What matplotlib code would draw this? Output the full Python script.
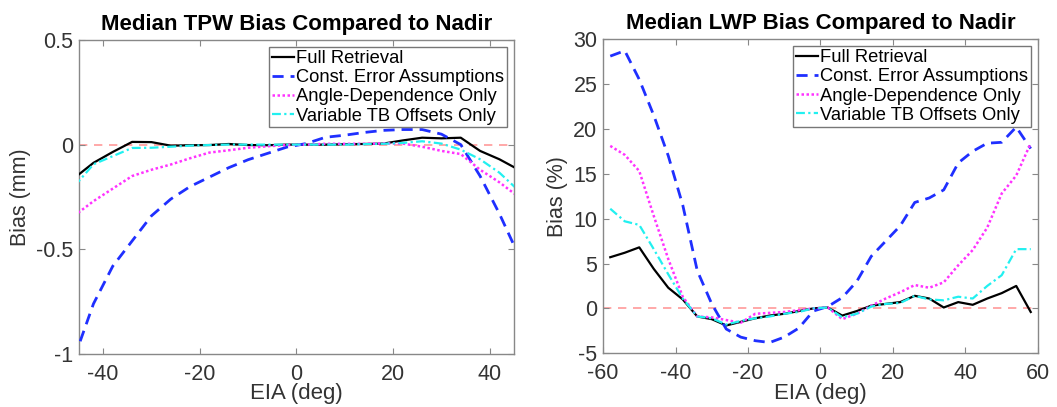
import numpy as np
import matplotlib
matplotlib.use("Agg")
import matplotlib.pyplot as plt

plt.rcParams['font.family'] = ['Liberation Sans', 'DejaVu Sans']
plt.rcParams['axes.unicode_minus'] = False

# EIA bins (deg)
eia_tpw = [-46, -42, -38, -34, -30, -26, -22, -18, -14, -10, -6, -2,
           2, 6, 10, 14, 18, 22, 26, 30, 34, 38, 42, 46]
eia_lwp = [-58, -54, -50, -46, -42, -38, -34, -30, -26, -22, -18, -14, -10, -6, -2,
           2, 6, 10, 14, 18, 22, 26, 30, 34, 38, 42, 46, 50, 54, 58]

series_names = ["Full Retrieval", "Const. Error Assumptions",
                "Angle-Dependence Only", "Variable TB Offsets Only"]

# TPW bias (mm)
tpw_full = [-0.16, -0.087, -0.035, 0.013, 0.012, -0.005, -0.003, -0.002, 0.003, -0.002, -0.003, 0.0,
            0.0, 0.0, 0.002, 0.003, 0.005, 0.02, 0.033, 0.03, 0.033, -0.03, -0.07, -0.12]
tpw_const = [-1.02, -0.76, -0.58, -0.46, -0.34, -0.26, -0.2, -0.155, -0.11, -0.072, -0.042, -0.012,
             0.005, 0.035, 0.045, 0.058, 0.068, 0.072, 0.072, 0.05, 0.0, -0.15, -0.33, -0.53]
tpw_angle = [-0.34, -0.27, -0.21, -0.15, -0.12, -0.095, -0.065, -0.038, -0.027, -0.015, -0.008, -0.002,
             0.0, 0.004, 0.004, 0.004, 0.006, 0.005, -0.01, -0.03, -0.045, -0.12, -0.18, -0.25]
tpw_tb = [-0.2, -0.094, -0.055, -0.016, -0.015, -0.01, -0.005, -0.002, 0.0, 0.0, 0.0, 0.0,
          0.0, 0.0, 0.0, 0.002, 0.004, 0.008, 0.016, 0.005, -0.024, -0.07, -0.134, -0.22]

# LWP bias (%)
lwp_full = [5.7, 6.2, 6.8, 4.4, 2.3, 1.0, -0.9, -1.2, -1.9, -1.5, -1.1, -0.8, -0.6, -0.3, 0.0,
            0.1, -0.8, -0.3, 0.3, 0.5, 0.7, 1.4, 1.1, 0.1, 0.7, 0.4, 1.1, 1.7, 2.5, -0.4]
lwp_const = [28.1, 28.7, 25.5, 21.5, 17.0, 11.5, 4.2, 0.5, -2.3, -3.2, -3.6, -3.8, -3.2, -2.2, -0.3,
             0.2, 1.2, 3.0, 5.8, 7.5, 9.2, 11.8, 12.3, 13.2, 16.2, 17.5, 18.4, 18.5, 20.2, 17.8]
lwp_angle = [18.1, 17.1, 15.3, 10.3, 5.5, 1.3, -0.9, -1.0, -1.3, -1.6, -0.6, -0.5, -0.4, -0.2, 0.0,
             0.1, -1.2, -0.6, 0.3, 1.1, 1.8, 2.6, 2.3, 2.9, 4.8, 6.5, 9.0, 12.8, 14.8, 18.4]
lwp_tb = [11.1, 9.7, 9.3, 6.6, 3.8, 1.1, -0.9, -1.1, -1.8, -1.4, -1.1, -0.9, -0.6, -0.4, 0.0,
          0.1, -1.0, -0.6, 0.2, 0.5, 0.6, 1.4, 1.0, 0.9, 1.3, 1.1, 2.5, 3.7, 6.6, 6.6]

styles = [dict(color='black', linestyle='-', linewidth=1.6),
          dict(color='#1f2fff', linestyle=(0, (4, 2.5)), linewidth=2.0),
          dict(color='#ff33ff', linestyle=(0, (1, 1)), linewidth=1.8),
          dict(color='#22f0f0', linestyle=(0, (4, 1.5, 1, 1.5)), linewidth=1.6)]


def draw_panel(ax, x, ys, title, ylabel, xlim, ylim, yticks, yticklabels, xticks):
    ax.axhline(0, color='#ff8080', linestyle=(0, (5, 4)), linewidth=1.2, alpha=0.8, zorder=1)
    for y, st, name in zip(ys, styles, series_names):
        ax.plot(x, y, label=name, zorder=3, **st)
    ax.set_xlim(xlim)
    ax.set_ylim(ylim)
    ax.set_xticks(xticks)
    ax.set_yticks(yticks)
    ax.set_yticklabels(yticklabels)
    ax.set_title(title, fontsize=16, fontweight='bold', pad=7)
    ax.set_xlabel("EIA (deg)", fontsize=16, color='#333333', labelpad=-1)
    ax.set_ylabel(ylabel, fontsize=15.5, color='#333333', labelpad=4)
    ax.tick_params(direction='in', top=True, right=True, length=4, width=0.8,
                   colors='#888888', labelcolor='#333333', labelsize=15.5, pad=4)
    ax.tick_params(axis='x', pad=7)
    for sp in ax.spines.values():
        sp.set_color('#888888')
        sp.set_linewidth(1.0)
    leg = ax.legend(loc='upper right', fontsize=13.2, handlelength=1.2, handletextpad=0.1,
                    labelspacing=0.12, borderpad=0.15, borderaxespad=0.4, fancybox=False,
                    framealpha=1)
    leg.get_frame().set_edgecolor('#777777')
    leg.get_frame().set_linewidth(1.0)


fig = plt.figure(figsize=(10.57, 4.07), dpi=100)
ax1 = fig.add_axes([0.0747, 0.13, 0.4115, 0.772])
ax2 = fig.add_axes([0.5705, 0.132, 0.4115, 0.772])

draw_panel(ax1, eia_tpw, [tpw_full, tpw_const, tpw_angle, tpw_tb],
           "Median TPW Bias Compared to Nadir", "Bias (mm)",
           (-45, 45), (-1, 0.5), [-1, -0.5, 0, 0.5], ["-1", "-0.5", "0", "0.5"],
           [-40, -20, 0, 20, 40])
draw_panel(ax2, eia_lwp, [lwp_full, lwp_const, lwp_angle, lwp_tb],
           "Median LWP Bias Compared to Nadir", "Bias (%)",
           (-60, 60), (-5, 30), [-5, 0, 5, 10, 15, 20, 25, 30],
           ["-5", "0", "5", "10", "15", "20", "25", "30"],
           [-60, -40, -20, 0, 20, 40, 60])

fig.savefig("out.png", dpi=100)
